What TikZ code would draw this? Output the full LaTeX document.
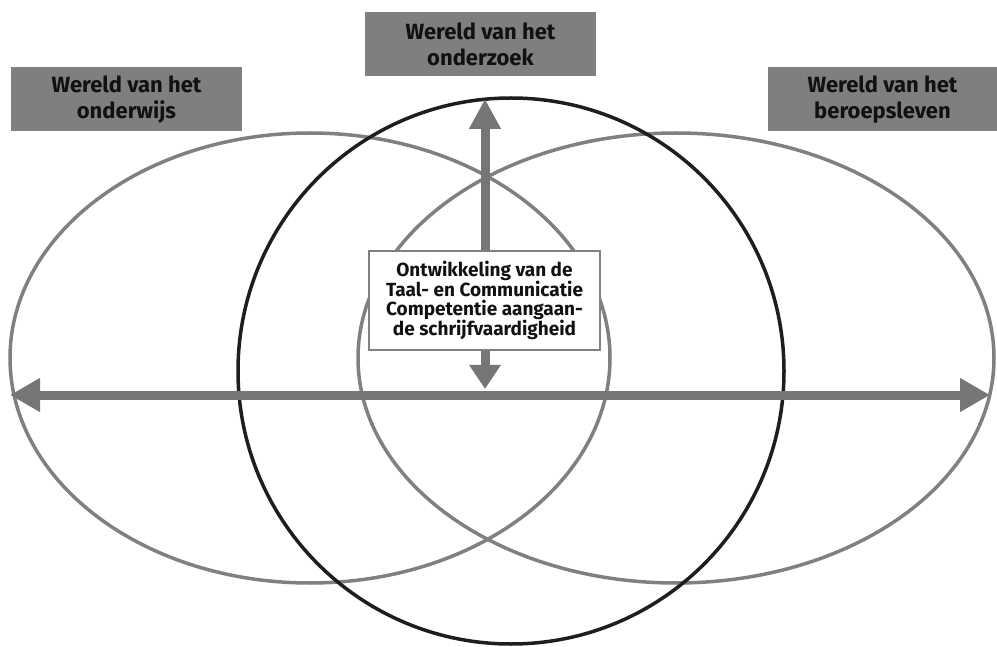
\documentclass[tikz,border=0pt]{standalone}
\usepackage{fontspec}
\setmainfont{Fira Sans}
\usetikzlibrary{arrows.meta,shapes.geometric}
\definecolor{labelgray}{HTML}{7F7F7F}
\definecolor{ringgray}{HTML}{808080}
\definecolor{arrowgray}{HTML}{767676}
\definecolor{ringdark}{HTML}{1E1E1E}
\definecolor{txt}{HTML}{111111}
\tikzset{
  worldlabel/.style={fill=labelgray, draw=none, text=txt, minimum width=231pt, minimum height=64pt,
    align=center, font=\fontsize{22}{26}\selectfont\bfseries, inner sep=0pt},
  ring/.style={ellipse, draw=ringgray, line width=3.5pt, fill=none, inner sep=0pt},
  darkring/.style={circle, draw=ringdark, line width=3.5pt, fill=none, inner sep=0pt},
  bigarrow/.style={draw=arrowgray, line width=9pt, {Triangle[length=30pt,width=32pt]}-{Triangle[length=30pt,width=32pt]}},
  centerbox/.style={draw=ringgray, line width=2pt, fill=white, text=txt, minimum width=231pt, minimum height=99pt,
    align=center, font=\fontsize{19}{18.5}\selectfont\bfseries, inner sep=0pt}
}
\begin{document}
\begin{tikzpicture}[x=1pt,y=-1pt]
\useasboundingbox (0,0) rectangle (997,647);
\fill[white] (0,0) rectangle (997,647);
% rings
\node[ring, minimum width=600pt, minimum height=450pt] (onderwijs) at (310,358) {};
\node[ring, minimum width=636pt, minimum height=450pt] (beroep) at (676,358) {};
\node[darkring, minimum size=546pt] (onderzoek) at (511,371) {};
% arrow endpoints
\coordinate (L) at (10,395);
\coordinate (R) at (990,395);
\coordinate (T) at (485,99);
\coordinate (B) at (485,389);
\draw[bigarrow] (L) -- (R);
\draw[bigarrow, {Triangle[length=30pt,width=30pt]}-{Triangle[length=24pt,width=30pt]}] (T) -- (B);
% center box
\node[centerbox] (ttc) at (484.5,300.5) {Ontwikkeling van de\\Taal- en Communicatie\\Competentie aangaan-\\de schrijfvaardigheid};
% world labels
\node[worldlabel] (wonderwijs) at (126.5,99.5) {Wereld van het\\onderwijs};
\node[worldlabel] (wonderzoek) at (480.5,44) {Wereld van het\\onderzoek};
\node[worldlabel, minimum width=229pt] (wberoep) at (882.5,99.5) {Wereld van het\\beroepsleven};
\end{tikzpicture}
\end{document}
